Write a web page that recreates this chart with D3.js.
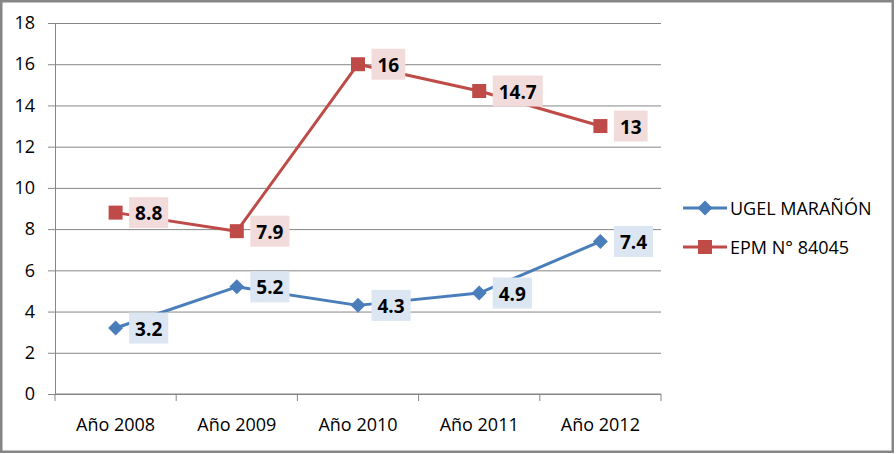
<!DOCTYPE html>
<html>
<head>
<meta charset="utf-8">
<script src="https://cdn.jsdelivr.net/npm/d3@7"></script>
<style>
  body { margin: 0; background: #fff; }
  svg { display: block; }
  text { font-family: "Open Sans", sans-serif; fill: #000; }
</style>
</head>
<body>
<svg id="chart" width="896" height="454"></svg>
<script>
const categories = ["Año 2008", "Año 2009", "Año 2010", "Año 2011", "Año 2012"];
const seriesNames = ["UGEL MARAÑÓN", "EPM N° 84045"];
const ugelValues = [3.2, 5.2, 4.3, 4.9, 7.4];
const epmValues = [8.8, 7.9, 16, 14.7, 13];
const yTicks = [0, 2, 4, 6, 8, 10, 12, 14, 16, 18];

(function () {
const colors = ["#4a7ebb", "#be4b48"];
const labelBg = ["#dce6f2", "#f2dcdb"];
const series = [
  { name: seriesNames[0], values: ugelValues, marker: "diamond" },
  { name: seriesNames[1], values: epmValues, marker: "square" }
];

const svg = d3.select("#chart");
const grid = "#868686";

// outer border
svg.append("rect").attr("x", 1.25).attr("y", 1.25).attr("width", 891.5).attr("height", 450.5)
  .attr("fill", "#fff").attr("stroke", grid).attr("stroke-width", 2.5);

const pLeft = 55, pRight = 661, pTop = 23, pBottom = 394;
const x = d3.scaleBand().domain(categories).range([pLeft, pRight]).padding(0);
const y = d3.scaleLinear().domain([0, 18]).range([pBottom, pTop]);

// y axis with gridlines
const yAxis = d3.axisLeft(y).tickValues(yTicks).tickSize(-(pRight - pLeft)).tickSizeOuter(0).tickPadding(20);
const gy = svg.append("g").attr("transform", `translate(${pLeft},0)`).call(yAxis);
gy.select(".domain").attr("stroke", grid).attr("stroke-width", 1);
gy.selectAll(".tick line").attr("stroke", grid).attr("stroke-width", 1).attr("x1", -7);
gy.selectAll(".tick text").attr("font-size", 18).attr("font-family", "Open Sans").attr("fill", "#000");

// x axis
const xAxis = d3.axisBottom(x).tickSize(0).tickPadding(24);
const gx = svg.append("g").attr("transform", `translate(0,${pBottom})`).call(xAxis);
gx.select(".domain").remove();
gx.selectAll(".tick text").attr("font-size", 18).attr("font-family", "Open Sans").attr("fill", "#000");
const bounds = categories.map(c => x(c)).concat([x(categories[categories.length - 1]) + x.bandwidth()]);
gx.selectAll("line.bnd").data(bounds).enter().append("line").attr("class", "bnd")
  .attr("x1", d => d).attr("x2", d => d).attr("y1", 0).attr("y2", 7)
  .attr("stroke", grid).attr("stroke-width", 1);
svg.append("line").attr("x1", pLeft).attr("x2", pRight).attr("y1", pBottom).attr("y2", pBottom)
  .attr("stroke", grid).attr("stroke-width", 1);

const cx = c => x(c) + x.bandwidth() / 2;
const line = d3.line().x((d, i) => cx(categories[i])).y(d => y(d));

function drawMarker(g, type, color) {
  if (type === "diamond") {
    g.append("path").attr("d", "M0,-7.5L7.5,0L0,7.5L-7.5,0Z").attr("fill", color);
  } else {
    g.append("rect").attr("x", -7).attr("y", -7).attr("width", 14).attr("height", 14).attr("fill", color);
  }
}

series.forEach((s, si) => {
  const g = svg.append("g");
  g.append("path").datum(s.values).attr("d", line).attr("fill", "none")
    .attr("stroke", colors[si]).attr("stroke-width", 3).attr("stroke-linejoin", "round");
  s.values.forEach((v, i) => {
    const m = g.append("g").attr("transform", `translate(${cx(categories[i])},${y(v)})`);
    drawMarker(m, s.marker, colors[si]);
  });
});

// data labels
series.forEach((s, si) => {
  s.values.forEach((v, i) => {
    const px = cx(categories[i]), py = y(v);
    const lg = svg.append("g");
    const rect = lg.append("rect").attr("fill", labelBg[si]);
    const t = lg.append("text").text(String(v))
      .attr("font-size", 19).attr("font-weight", "bold").attr("font-family", "Open Sans")
      .attr("dominant-baseline", "central");
    const w = t.node().getComputedTextLength();
    const bx = px + 13.5, bw = w + 12;
    rect.attr("x", bx).attr("y", py - 15.5).attr("width", bw).attr("height", 31);
    t.attr("x", bx + bw / 2).attr("y", py + 0.5).attr("text-anchor", "middle");
  });
});

// legend
const legendY = [208, 247];
series.forEach((s, si) => {
  const lg = svg.append("g").attr("transform", `translate(0,${legendY[si]})`);
  lg.append("line").attr("x1", 683).attr("x2", 727).attr("y1", 0).attr("y2", 0)
    .attr("stroke", colors[si]).attr("stroke-width", 3);
  const m = lg.append("g").attr("transform", "translate(705,0)");
  drawMarker(m, s.marker, colors[si]);
  lg.append("text").attr("x", 730).attr("y", 0).attr("dominant-baseline", "central")
    .attr("font-size", 18).text(s.name);
});
})();
</script>
</body>
</html>
